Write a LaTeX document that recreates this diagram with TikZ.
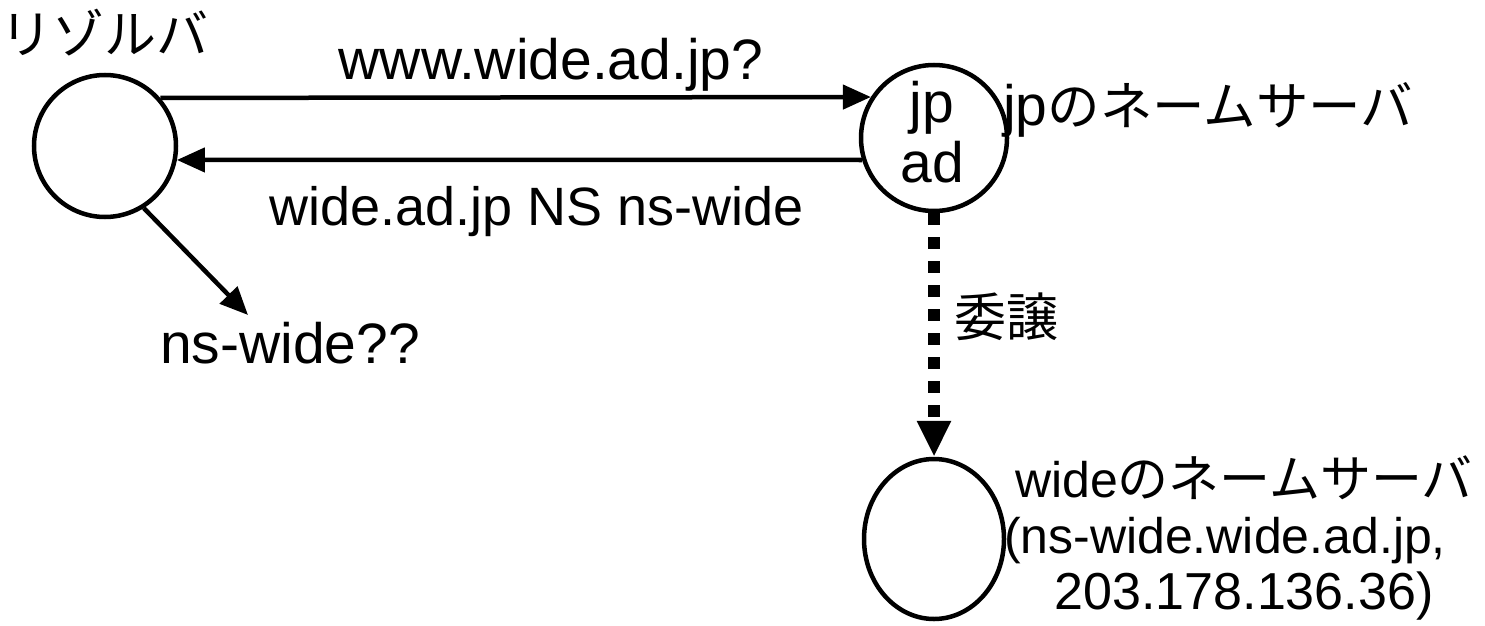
\documentclass[tikz,border=0pt]{standalone}
\usepackage{fontspec}
\setmainfont{Liberation Sans}
\newfontfamily\jpfont{Noto Sans CJK JP}
\usetikzlibrary{arrows.meta,shapes.geometric}
\newcommand{\ja}[2][52]{{\fontsize{#1}{#1}\selectfont\jpfont #2}}
\begin{document}
\begin{tikzpicture}[x=1pt,y=-1pt,
  ring/.style={draw,line width=4.5pt,inner sep=0pt},
  server/.style={ring,circle,minimum size=142pt},
  serveroval/.style={ring,ellipse,minimum width=140pt,minimum height=160pt},
  lbl/.style={inner sep=0pt,font=\fontsize{57}{57}\selectfont},
  small/.style={inner sep=0pt,font=\fontsize{50}{56}\selectfont},
  msg/.style={line width=4.5pt,-{Triangle[length=28pt,width=24pt]}},
  deleg/.style={line width=12pt,dash pattern=on 12pt off 12pt,
    -{Triangle[length=36pt,width=32pt]}}]
  \useasboundingbox (0,0) rectangle (1485,626);

  % name servers
  \node[server] (res) at (105,146) {};
  \node[server,minimum size=146pt] (jp) at (934,138) {};
  \node[serveroval] (wide) at (934,539) {};

  % labels
  \node[lbl,anchor=center] (resname) at (105,33) {\ja{リゾルバ}};
  \node[lbl,anchor=base] (q1) at (551,80) {www.wide.ad.jp?};
  \node[lbl,anchor=base,font=\fontsize{54}{54}\selectfont] (a1) at (537,225) {wide.ad.jp NS ns-wide};
  \node[lbl,anchor=base] (q2) at (290,363) {ns-wide??};
  \node[lbl,anchor=base] (jplbl) at (932,122) {jp};
  \node[lbl,anchor=base] (adlbl) at (932,182) {ad};
  \node[lbl,anchor=base west] (jpname) at (1003,125) {jp\ja[52.5]{のネームサーバ}};
  \node[lbl,anchor=center] (deltxt) at (1006,317) {\ja{委譲}};
  \node[small,anchor=north,align=center] (widename) at (1244,456)
    {wide\ja[51]{のネームサーバ}\\(ns-wide.wide.ad.jp,\makebox[38pt]{}\\{\fontsize{52}{56}\selectfont 203.178.136.36)}};

  \coordinate (qtip) at (248,315);

  % messages
  \draw[msg] (res.41.5) -- (jp.147.7);
  \draw[msg] (jp.197.5) -- (res.-11.4);
  \draw[msg] (res.-58) -- (qtip);
  \draw[deleg] (jp.south) -- (wide.north);
\end{tikzpicture}
\end{document}
